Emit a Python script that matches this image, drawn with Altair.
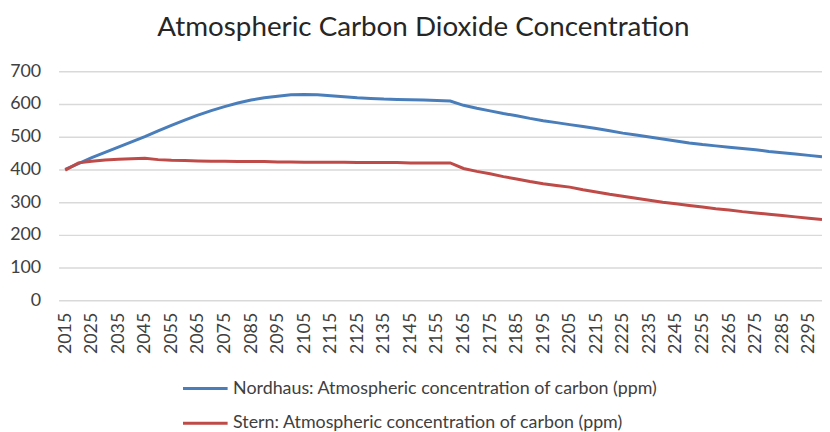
import altair as alt
import pandas as pd

years = list(range(2015, 2301, 5))

nordhaus = [400, 418, 436, 452, 468, 484, 500, 518, 535, 551,
            566, 580, 592, 603, 612, 619, 624, 628, 629, 628,
            625, 622, 619, 617, 615, 614, 613, 612, 611, 609,
            596, 587, 579, 571, 564, 556, 549, 543, 537, 531,
            525, 518, 511, 505, 499, 493, 487, 481, 476, 472,
            468, 464, 460, 455, 451, 447, 443, 439]

stern = [398, 420, 425, 429, 431, 433, 434, 430, 428, 427,
         426, 425, 425, 424, 424, 424, 423, 423, 422, 422,
         422, 422, 421, 421, 421, 421, 420, 420, 420, 420,
         403, 394, 387, 378, 371, 363, 356, 351, 346, 338,
         331, 324, 318, 312, 306, 300, 295, 290, 285, 280,
         276, 271, 267, 263, 259, 255, 251, 247]

series_names = ["Nordhaus: Atmospheric concentration of carbon (ppm)",
                "Stern: Atmospheric concentration of carbon (ppm)"]
series_colors = ["#4A7EBB", "#BE4B48"]

x_ticks = list(range(2015, 2296, 10))
y_ticks = list(range(0, 701, 100))

df = pd.concat([
    pd.DataFrame({"year": years, "value": nordhaus, "series": series_names[0]}),
    pd.DataFrame({"year": years, "value": stern, "series": series_names[1]}),
])

FONT = "Lato"

chart = alt.Chart(df).mark_line(strokeWidth=3).encode(
    x=alt.X("year:Q",
            scale=alt.Scale(domain=[2012.5, 2300], nice=False, zero=False),
            axis=alt.Axis(values=x_ticks, format="d", labelAngle=-90,
                          labelAlign="right", labelBaseline="middle",
                          labelPadding=12, ticks=False, domain=False, grid=False,
                          title=None, labelFontSize=18, labelColor="#404040",
                          labelFont=FONT, labelOverlap=False)),
    y=alt.Y("value:Q",
            scale=alt.Scale(domain=[0, 700], nice=False),
            axis=alt.Axis(values=y_ticks, ticks=False, domain=False,
                          gridColor="#D9D9D9", gridWidth=1.5,
                          labelPadding=18, title=None, labelFontSize=18,
                          labelColor="#404040", labelFont=FONT)),
    color=alt.Color("series:N",
                    scale=alt.Scale(domain=series_names, range=series_colors),
                    legend=alt.Legend(orient="none", legendX=124, legendY=296,
                                      direction="vertical", title=None,
                                      symbolType="stroke", symbolSize=2025,
                                      symbolStrokeWidth=3, labelOffset=4,
                                      rowPadding=2, labelFontSize=18,
                                      labelColor="#404040", labelFont=FONT,
                                      labelLimit=600)),
).properties(
    width=770,
    height=231,
    title=alt.Title("Atmospheric Carbon Dioxide Concentration",
                    fontSize=28, font=FONT, fontWeight="normal",
                    color="#262626", anchor="middle", dx=-17, offset=21),
    autosize=alt.AutoSizeParams(type="none"),
    padding={"left": 51, "top": 62, "right": 0, "bottom": 132},
).configure_view(stroke=None)

chart.save("out.html", embed_options={"renderer": "svg", "actions": False})
